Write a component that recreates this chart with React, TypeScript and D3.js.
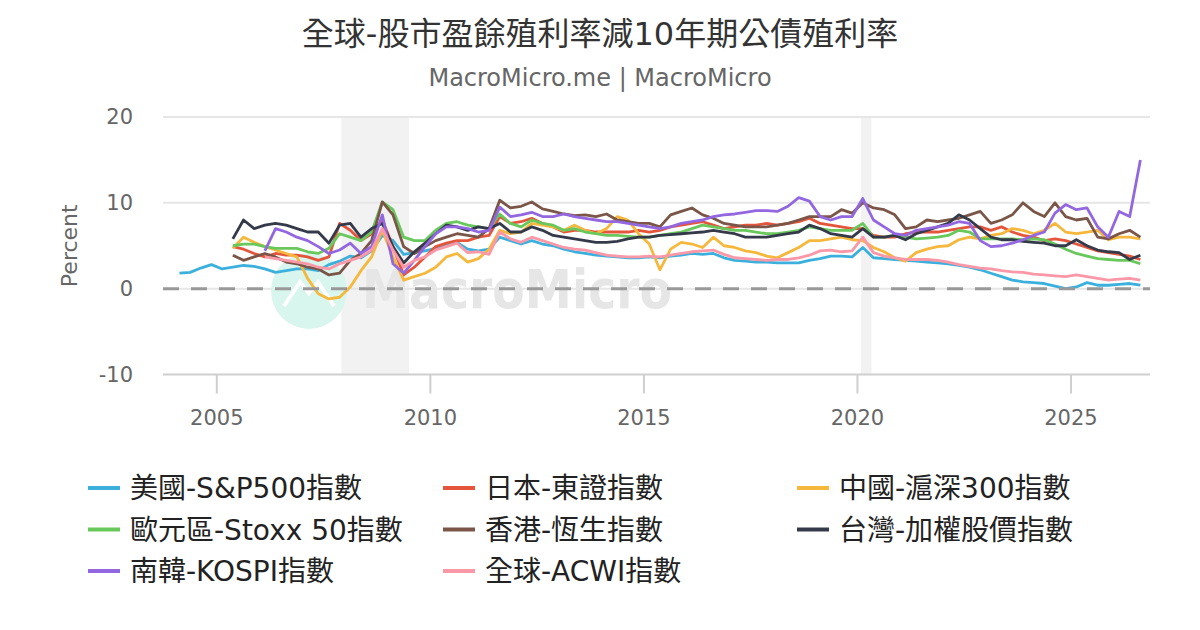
import { useEffect, useRef } from 'react';
import * as d3 from 'd3';

// quarterly readings (mid-quarter), each series from its own start year
const spxStart = 2004.125;
const spx = [
  1.8, 1.9, 2.4, 2.8, 2.3, 2.5, 2.7, 2.6, 2.3, 1.9, 2.1, 2.3, 2.3, 2.1, 2.8, 3.2,
  3.8, 3.6, 4.4, 6.2, 5.6, 4.0, 4.2, 4.4, 4.7, 5.2, 5.4, 4.6, 4.4, 4.6, 6.0, 5.6,
  5.2, 5.6, 5.2, 5.0, 4.6, 4.3, 4.1, 3.9, 3.8, 3.7, 3.6, 3.6, 3.7, 3.6, 3.8, 3.9,
  4.1, 4.0, 4.1, 3.6, 3.3, 3.2, 3.1, 3.1, 3.0, 3.0, 3.0, 3.3, 3.5, 3.8, 3.8, 3.7,
  4.8, 3.6, 3.5, 3.4, 3.3, 3.2, 3.1, 3.0, 2.9, 2.7, 2.5, 2.2, 1.8, 1.4, 1.0, 0.8,
  0.7, 0.6, 0.3, 0.0, 0.2, 0.7, 0.4, 0.4, 0.5, 0.6, 0.4,
];

const topixStart = 2005.375;
const topix = [
  4.9, 4.6, 4.1, 3.7, 4.1, 3.9, 3.9, 3.7, 3.3, 3.7, 7.6, 6.8, 5.6, 6.4, 8.0,
  4.9, 1.6, 2.5, 3.7, 4.9, 5.3, 5.6, 5.6, 6.0, 6.2, 8.4, 7.6, 7.8, 8.2, 7.6, 7.2,
  6.6, 6.8, 6.8, 6.6, 6.6, 6.6, 6.6, 6.8, 6.6, 6.8, 7.2, 7.4, 7.6, 7.8, 7.4, 7.0,
  7.2, 7.4, 7.4, 7.6, 7.4, 7.6, 7.8, 8.2, 7.6, 7.4, 7.2, 7.0, 7.0, 6.2, 6.0, 6.0,
  6.4, 6.6, 6.6, 6.6, 6.8, 7.0, 7.2, 7.2, 6.8, 7.2, 6.6, 6.2, 6.0, 5.6, 5.8, 5.6,
  5.2, 4.8, 4.4, 4.2, 4.0, 3.8, 3.4,
];

const csiStart = 2005.375;
const csi = [
  4.7, 6.0, 5.4, 4.9, 4.5, 4.1, 3.7, 1.2, -0.6, -1.2, -1.0, 0.2, 2.1, 3.7, 6.8,
  3.7, 1.0, 1.4, 1.8, 2.5, 3.7, 4.1, 3.1, 3.5, 4.6, 6.8, 6.4, 6.6, 7.6, 7.4, 7.2,
  6.8, 7.4, 6.8, 6.4, 7.0, 8.4, 8.0, 6.4, 5.2, 2.2, 4.6, 5.4, 5.2, 4.8, 6.0, 5.0,
  4.8, 4.4, 4.2, 3.8, 3.6, 4.2, 4.8, 5.6, 5.6, 5.8, 6.0, 5.7, 5.6, 4.8, 4.3, 3.6,
  3.2, 4.2, 4.6, 4.9, 5.0, 5.7, 6.0, 5.8, 6.2, 6.4, 7.0, 6.8, 6.4, 6.8, 7.6, 6.6,
  6.4, 6.6, 6.8, 5.7, 6.0, 6.0, 5.8,
];

const stoxxStart = 2005.375;
const stoxx = [
  5.0, 5.2, 5.2, 4.9, 4.7, 4.7, 4.7, 4.3, 4.1, 4.7, 6.4, 6.0, 5.6, 6.6, 10.1,
  9.2, 6.0, 5.6, 5.6, 6.8, 7.6, 7.8, 7.4, 7.2, 7.0, 8.7, 7.6, 7.2, 8.0, 7.6, 7.4,
  6.8, 7.0, 6.6, 6.4, 6.2, 6.2, 6.1, 6.0, 6.0, 6.2, 6.4, 6.6, 7.0, 7.4, 7.2, 7.0,
  6.8, 6.8, 6.6, 6.4, 6.4, 6.6, 6.8, 7.2, 7.0, 6.8, 6.8, 6.8, 7.6, 6.0, 6.0, 6.2,
  6.0, 5.8, 5.9, 6.0, 6.2, 6.8, 6.6, 5.8, 5.8, 5.8, 5.8, 5.7, 5.8, 5.7, 5.2, 4.6,
  4.1, 3.8, 3.5, 3.4, 3.3, 3.3, 2.9,
];

const hsiStart = 2005.375;
const hsi = [
  3.9, 3.3, 3.7, 4.1, 3.7, 3.1, 2.9, 2.5, 2.3, 1.6, 1.8, 3.3, 4.1, 5.6, 10.1,
  8.6, 4.9, 4.1, 4.9, 5.6, 6.0, 6.4, 6.2, 6.0, 7.0, 10.3, 9.4, 9.6, 10.1, 9.3, 9.0,
  8.7, 8.5, 8.6, 8.4, 8.7, 8.0, 7.8, 7.6, 7.6, 7.2, 8.6, 9.0, 9.4, 8.6, 8.2, 7.6,
  7.4, 7.2, 7.2, 7.2, 7.4, 7.6, 8.0, 8.4, 8.4, 8.4, 9.2, 8.8, 10.0, 9.4, 9.2, 8.6,
  7.0, 7.2, 8.0, 7.8, 8.0, 8.2, 8.6, 9.0, 7.6, 8.0, 8.6, 10.0, 9.0, 8.4, 10.0, 8.4,
  8.0, 8.2, 6.0, 5.8, 6.4, 6.8, 6.0,
];

const taiexStart = 2005.375;
const taiex = [
  5.8, 8.0, 7.0, 7.4, 7.6, 7.4, 7.0, 6.6, 6.6, 5.3, 7.4, 7.6, 6.0, 7.0, 7.6,
  4.9, 3.0, 4.3, 5.3, 6.4, 7.4, 7.2, 6.8, 7.2, 7.0, 7.6, 6.6, 6.6, 7.2, 6.8, 6.2,
  6.0, 5.8, 5.6, 5.4, 5.4, 5.5, 5.8, 6.0, 6.0, 6.2, 6.3, 6.4, 6.5, 6.6, 6.8, 6.6,
  6.4, 6.0, 6.0, 6.0, 6.2, 6.4, 6.6, 7.4, 7.0, 6.4, 6.2, 6.0, 7.0, 6.0, 6.0, 6.2,
  5.7, 6.4, 6.8, 7.2, 7.6, 8.6, 8.0, 7.0, 6.0, 5.7, 5.7, 5.5, 5.4, 5.3, 5.0, 5.0,
  5.7, 5.0, 4.5, 4.3, 4.2, 3.4, 3.9,
];

const kospiStart = 2006.125;
const kospi = [
  4.4, 7.0, 6.6, 6.0, 5.6, 4.9, 4.1, 4.5, 5.3, 4.1, 4.9, 8.6,
  2.9, 1.8, 3.3, 4.9, 6.4, 7.2, 7.2, 7.0, 6.6, 6.8, 9.5, 8.4, 8.6, 8.9, 8.4, 8.4,
  8.7, 8.4, 8.2, 8.0, 7.8, 7.8, 7.6, 7.4, 7.2, 7.0, 7.2, 7.6, 7.8, 8.0, 8.4, 8.6,
  8.7, 8.9, 9.1, 9.1, 9.0, 9.6, 10.6, 10.2, 8.4, 8.0, 8.4, 8.4, 10.5, 8.0, 7.2, 6.4,
  6.2, 6.8, 7.0, 7.2, 7.4, 7.8, 7.6, 5.6, 4.9, 5.0, 5.3, 5.7, 6.2, 6.6, 8.8, 9.8,
  9.2, 9.4, 7.2, 6.0, 9.0, 8.4, 15.0,
];

const acwiStart = 2006.125;
const acwi = [
  3.7, 3.5, 3.3, 3.1, 2.9, 2.5, 2.3, 2.9, 3.3, 3.7, 4.5, 7.0,
  4.5, 2.5, 3.3, 3.7, 4.5, 4.9, 5.3, 4.2, 4.3, 4.0, 6.6, 5.8, 5.4, 6.0, 5.6, 5.2,
  4.8, 4.6, 4.5, 4.2, 3.9, 3.8, 3.7, 3.7, 3.8, 3.7, 3.9, 4.1, 4.3, 4.4, 4.5, 4.0,
  3.6, 3.5, 3.4, 3.3, 3.4, 3.4, 3.6, 3.9, 4.4, 4.5, 4.3, 4.4, 6.0, 4.2, 3.8, 3.6,
  3.4, 3.4, 3.4, 3.3, 3.1, 2.8, 2.6, 2.4, 2.3, 2.1, 1.95, 1.9, 1.7, 1.6, 1.5, 1.4,
  1.6, 1.4, 1.2, 1.0, 1.1, 1.2, 1.0,
];

const seriesNames = [
  '美國-S&P500指數', '日本-東證指數', '中國-滬深300指數',
  '歐元區-Stoxx 50指數', '香港-恆生指數', '台灣-加權股價指數',
  '南韓-KOSPI指數', '全球-ACWI指數',
];
const seriesColors = [
  '#3cb0dd', '#e5553b', '#f5b83c', '#68c85c', '#7a5548', '#353a4b', '#9267e0', '#fb98a7',
];
const seriesStarts = [spxStart, topixStart, csiStart, stoxxStart, hsiStart, taiexStart, kospiStart, acwiStart];
const seriesValues = [spx, topix, csi, stoxx, hsi, taiex, kospi, acwi];

const yTicks = [-10, 0, 10, 20];
const xTicks = [2005, 2010, 2015, 2020, 2025];
const recessionStarts = [2007.917, 2020.083];
const recessionEnds = [2009.5, 2020.33];

const FONT = '"DejaVu Sans", "Noto Sans CJK TC", sans-serif';

export default function App() {
  const ref = useRef<SVGSVGElement>(null);

  useEffect(() => {
    if (!ref.current) return;
    const svg = d3.select(ref.current);
    svg.selectAll('*').remove();

    const x = d3.scaleLinear().domain([2003.74, 2026.85]).range([163, 1150]);
    const y = d3.scaleLinear().domain([-10, 20]).range([374.5, 117]);
    const [x0, x1] = x.range();

    svg.append('rect').attr('width', 1200).attr('height', 630).attr('fill', '#fff');

    // title
    svg.append('text')
      .attr('x', 600).attr('y', 45)
      .attr('text-anchor', 'middle')
      .attr('font-size', 32).attr('fill', '#333')
      .text('全球-股市盈餘殖利率減10年期公債殖利率');
    svg.append('text')
      .attr('x', 600).attr('y', 86)
      .attr('text-anchor', 'middle')
      .attr('font-size', 24).attr('fill', '#666')
      .text('MacroMicro.me | MacroMicro');

    // recession bands
    recessionStarts.forEach((s, i) => {
      svg.append('rect')
        .attr('x', x(s)).attr('y', y(20))
        .attr('width', x(recessionEnds[i]) - x(s))
        .attr('height', y(-10) - y(20))
        .attr('fill', '#f2f2f2');
    });

    // grid + y labels
    yTicks.forEach(t => {
      svg.append('line')
        .attr('x1', x0).attr('x2', x1)
        .attr('y1', y(t)).attr('y2', y(t))
        .attr('stroke', t === -10 ? '#cfcfcf' : '#e6e6e6')
        .attr('stroke-width', 2);
      svg.append('text')
        .attr('x', 133).attr('y', y(t) + 7)
        .attr('text-anchor', 'end')
        .attr('font-size', 21).attr('fill', '#666')
        .text(t);
    });

    xTicks.forEach(t => {
      svg.append('line')
        .attr('x1', x(t)).attr('x2', x(t))
        .attr('y1', y(-10)).attr('y2', y(-10) + 19)
        .attr('stroke', '#cfcfcf').attr('stroke-width', 2);
      svg.append('text')
        .attr('x', x(t)).attr('y', 425)
        .attr('text-anchor', 'middle')
        .attr('font-size', 21).attr('fill', '#666')
        .text(t);
    });

    svg.append('text')
      .attr('transform', `translate(77,${y(5)}) rotate(-90)`)
      .attr('text-anchor', 'middle')
      .attr('font-size', 22).attr('fill', '#666')
      .text('Percent');

    // watermark
    const wm = svg.append('g');
    wm.append('circle').attr('cx', 309).attr('cy', 291).attr('r', 38).attr('fill', '#d8f6ee');
    wm.append('path')
      .attr('d', 'M284,306 L300,282 L309,293 L318,282 L334,306')
      .attr('fill', 'none').attr('stroke', '#fff').attr('stroke-width', 4);
    wm.append('text')
      .attr('x', 362).attr('y', 308)
      .attr('font-size', 54).attr('font-weight', 'bold')
      .attr('fill', '#e6e6e6')
      .attr('textLength', 310).attr('lengthAdjust', 'spacingAndGlyphs')
      .text('MacroMicro');

    // series
    seriesValues.forEach((vals, si) => {
      const start = seriesStarts[si];
      const gen = d3.line<number>()
        .x((_, i) => x(start + i * 0.25))
        .y(d => y(d));
      svg.append('path')
        .attr('d', gen(vals) as string)
        .attr('fill', 'none')
        .attr('stroke', seriesColors[si])
        .attr('stroke-width', 2.8)
        .attr('stroke-linejoin', 'round');
    });

    // zero line
    svg.append('line')
      .attr('x1', x0).attr('x2', x1)
      .attr('y1', y(0)).attr('y2', y(0))
      .attr('stroke', '#999').attr('stroke-width', 3)
      .attr('stroke-dasharray', '16,12');

    // legend
    const cols = [88, 443, 797];
    const rows = [488, 529.5, 571];
    seriesNames.forEach((name, i) => {
      const lx = cols[i % 3];
      const ly = rows[Math.floor(i / 3)];
      svg.append('line')
        .attr('x1', lx).attr('x2', lx + 32)
        .attr('y1', ly).attr('y2', ly)
        .attr('stroke', seriesColors[i]).attr('stroke-width', 4);
      svg.append('text')
        .attr('x', lx + 42).attr('y', ly + 10)
        .attr('font-size', 28).attr('fill', '#222')
        .text(name);
    });
  }, []);

  return (
    <svg
      ref={ref}
      width={1200}
      height={630}
      style={{ position: 'absolute', left: 0, top: 0, fontFamily: FONT }}
    />
  );
}
